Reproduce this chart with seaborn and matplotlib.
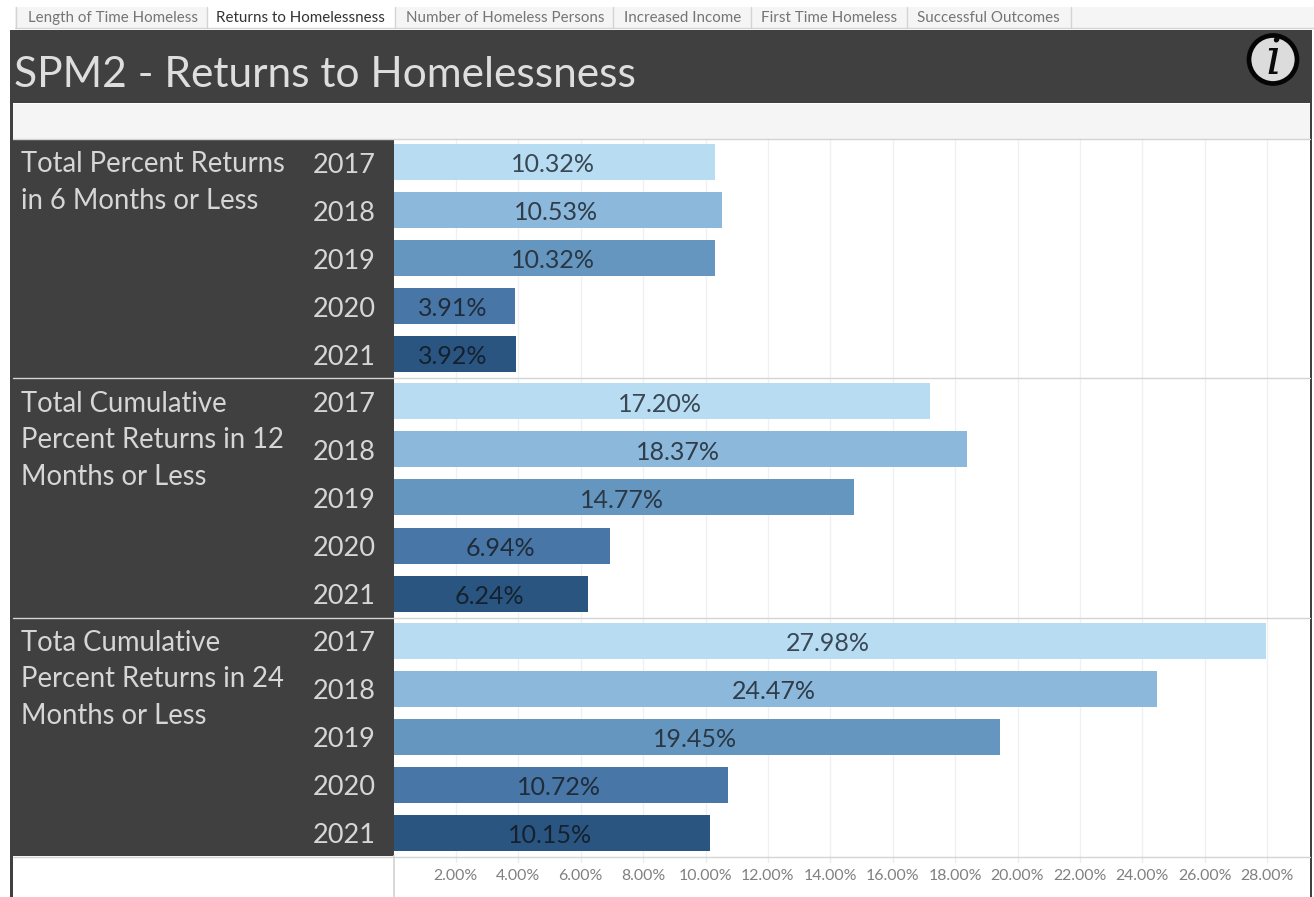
import matplotlib
matplotlib.use("Agg")
import matplotlib.pyplot as plt
from matplotlib.patches import Rectangle, Circle
from matplotlib.ticker import FixedLocator, FuncFormatter
from matplotlib.transforms import ScaledTranslation
import pandas as pd
import seaborn as sns

# Measures, years and values shown on the dashboard
years = ["2017", "2018", "2019", "2020", "2021"]
measures = [
    "Total Percent Returns\nin 6 Months or Less",
    "Total Cumulative\nPercent Returns in 12\nMonths or Less",
    "Tota Cumulative\nPercent Returns in 24\nMonths or Less",
]
returns_6_months = [10.32, 10.53, 10.32, 3.91, 3.92]
returns_12_months = [17.20, 18.37, 14.77, 6.94, 6.24]
returns_24_months = [27.98, 24.47, 19.45, 10.72, 10.15]
year_colors = ["#b8dcf1", "#8cb9db", "#6596c0", "#4876a6", "#2b5581"]
label_colors = ["#3a4754", "#2f3c49", "#2a3744", "#1f2c3a", "#14212f"]
tick_values = [2, 4, 6, 8, 10, 12, 14, 16, 18, 20, 22, 24, 26, 28]
tab_names = ["Length of Time Homeless", "Returns to Homelessness",
             "Number of Homeless Persons", "Increased Income",
             "First Time Homeless", "Successful Outcomes"]
title_text = "SPM2 - Returns to Homelessness"

W, H = 1314, 897
DARK = "#404040"
LIGHT_TEXT = "#d6d6d6"
FONT = "Lato"

sns.set_theme(style="white")
plt.rcParams["font.family"] = [FONT, "DejaVu Sans"]

fig = plt.figure(figsize=(W / 100, H / 100), dpi=100, facecolor="white")


def fig_box(x0, y0, x1, y1):
    """Pixel box measured from the top-left corner, as [left, bottom, width, height]."""
    return [x0 / W, 1 - y1 / H, (x1 - x0) / W, (y1 - y0) / H]


def band(x0, y0, x1, y1, color, z=0):
    left, bottom, width, height = fig_box(x0, y0, x1, y1)
    fig.add_artist(Rectangle((left, bottom), width, height, transform=fig.transFigure,
                             facecolor=color, edgecolor="none", zorder=z))


def hline(x0, x1, y, color="#d4d4d4", lw=1.0, z=1):
    fig.add_artist(plt.Line2D([x0 / W, x1 / W], [1 - y / H, 1 - y / H],
                              transform=fig.transFigure, color=color, lw=lw, zorder=z))


def vline(x, y0, y1, color="#d4d4d4", lw=1.0, z=1):
    fig.add_artist(plt.Line2D([x / W, x / W], [1 - y0 / H, 1 - y1 / H],
                              transform=fig.transFigure, color=color, lw=lw, zorder=z))


# Tab strip
band(15, 7, 1314, 28, "#f5f5f5")
band(207, 7, 395, 28, "#ffffff")
hline(15, 1314, 28.5)
for sep in [16, 207, 395, 613, 751, 907, 1071]:
    vline(sep, 7, 28)
for name, x_pos in zip(tab_names, [28, 216, 406, 624, 761, 917]):
    active = name == "Returns to Homelessness"
    fig.text(x_pos / W, 1 - 18 / H, name, fontsize=10.9, va="center", ha="left",
             family=FONT, color="#333333" if active else "#757575")

# Dark frame, title band and filter strip
band(10, 30, 1312, 103, DARK)
band(10, 103, 13, 897, DARK)
band(1310, 103, 1312, 897, DARK)
band(13, 139, 393.5, 856, DARK)
band(13, 104, 1310, 139, "#f5f5f5")
fig.text(14 / W, 1 - 75 / H, title_text, fontsize=30.6, va="center", ha="left",
         family=FONT, color="#dedede")

# Information badge
icon_ax = fig.add_axes(fig_box(1244, 30, 1304, 90))
icon_ax.set_xlim(0, 60)
icon_ax.set_ylim(60, 0)
icon_ax.axis("off")
icon_ax.add_patch(Circle((29, 29.5), 24, facecolor="#dcdcdc", edgecolor="#050505", linewidth=3.4))
icon_ax.text(29, 30.5, "i", fontsize=36, family="DejaVu Serif", style="italic",
             ha="center", va="center", color="#0a0a0a")

# One horizontal bar panel per measure
series_list = [returns_6_months, returns_12_months, returns_24_months]
panel_tops = [138.5, 377.5, 616.5]
separators = [378.5, 617.5, 856.5]
panel_height = 240
x_scale = 31.2
axis_left, axis_right = 393.5, 1310
x_limits = (0, (axis_right - axis_left) / x_scale)

for measure, values, top, sep in zip(measures, series_list, panel_tops, separators):
    ax = fig.add_axes(fig_box(axis_left, top, axis_right, top + panel_height))
    ax.patch.set_visible(False)
    frame = pd.DataFrame({"year": years, "value": values})
    sns.barplot(data=frame, x="value", y="year", hue="year", palette=year_colors,
                order=years, hue_order=years, width=0.75, dodge=False, legend=False,
                saturation=1, linewidth=0, ax=ax)
    ax.set_xlim(*x_limits)
    ax.set_ylim(4.5, -0.5)
    ax.set_xlabel("")
    ax.set_ylabel("")
    ax.xaxis.set_major_locator(FixedLocator(tick_values))
    ax.grid(axis="x", color="#f0f0f0", lw=1)
    ax.set_axisbelow(True)
    ax.tick_params(axis="x", labelbottom=False, length=0)
    ax.tick_params(axis="y", length=0, pad=12.8, labelsize=19.5, labelcolor=LIGHT_TEXT)
    nudge_down = ScaledTranslation(0, -0.4 / 72, fig.dpi_scale_trans)
    for label in ax.get_yticklabels():
        label.set_transform(label.get_transform() + nudge_down)
    sns.despine(ax=ax, left=True, bottom=True, top=True, right=True)

    for container, value, text_color in zip(ax.containers, values, label_colors):
        for annotation in ax.bar_label(container, labels=[f"{value:.2f}%"], label_type="center",
                                       fontsize=18, color=text_color, family=FONT):
            annotation.xyann = (-1.2, -1.8)

    fig.text(21 / W, 1 - (top + 13) / H, measure, fontsize=19.8, va="top", ha="left",
             family=FONT, color=LIGHT_TEXT, linespacing=1.52)
    hline(13, axis_right, sep, color="#d4d4d4", z=5)

hline(13, 1310, 139.5, z=5)

# Shared percentage axis beneath the panels
axis_ax = fig.add_axes(fig_box(axis_left, 856, axis_right, 897))
axis_ax.patch.set_visible(False)
axis_ax.set_xlim(*x_limits)
axis_ax.set_ylim(0, 1)
axis_ax.set_yticks([])
axis_ax.xaxis.set_major_locator(FixedLocator(tick_values))
axis_ax.xaxis.set_major_formatter(FuncFormatter(lambda v, _: f"{v:.2f}%"))
axis_ax.tick_params(axis="x", direction="in", length=0, labelbottom=True, bottom=False,
                    pad=-20, labelsize=11.4, labelcolor="#808080")
for tick in tick_values:
    axis_ax.plot([tick, tick], [0.86, 1], color="#ececec", lw=1, clip_on=False)
sns.despine(ax=axis_ax, left=True, bottom=True, right=True, top=True)
axis_ax.spines["left"].set_visible(True)
axis_ax.spines["left"].set_color("#d4d4d4")

fig.savefig("out.png", dpi=100)
